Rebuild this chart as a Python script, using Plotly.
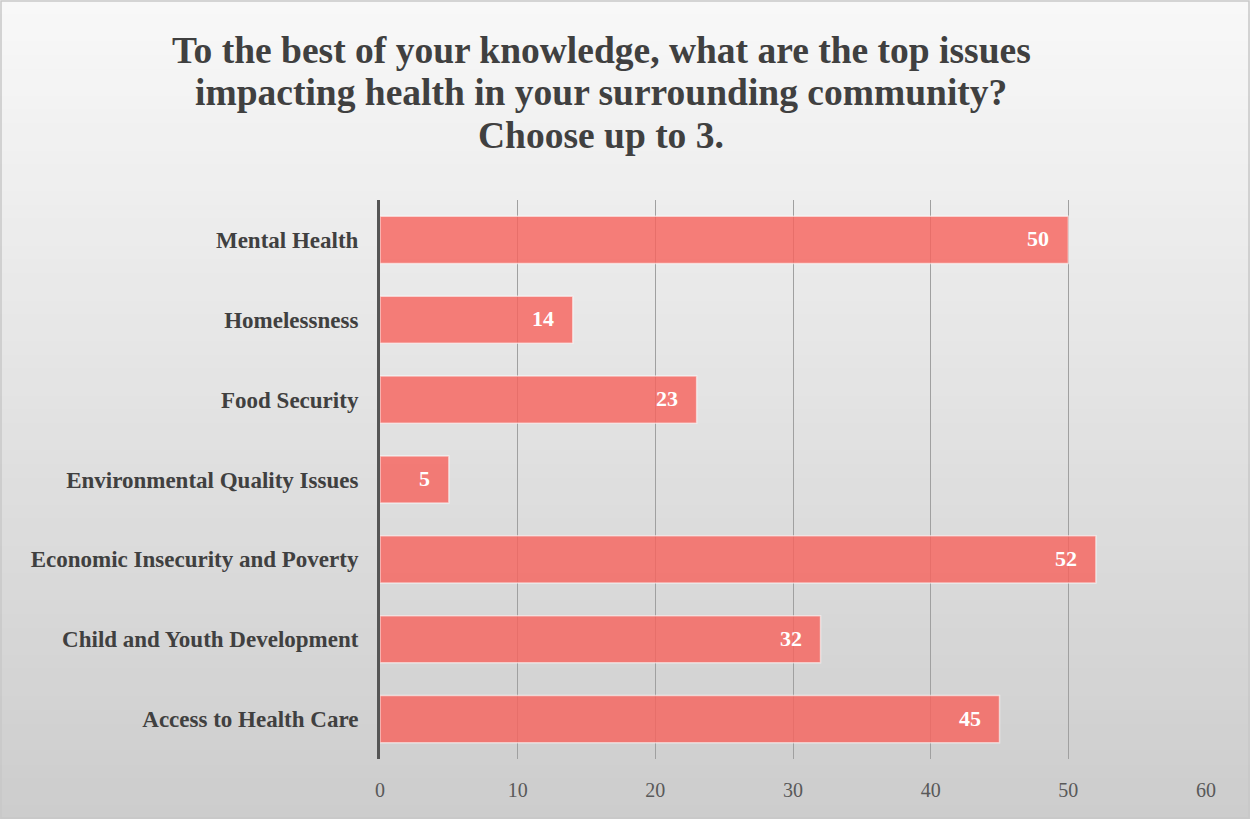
import plotly.graph_objects as go

# Survey responses (top issues impacting community health)
categories = [
    "Access to Health Care",
    "Child and Youth Development",
    "Economic Insecurity and Poverty",
    "Environmental Quality Issues",
    "Food Security",
    "Homelessness",
    "Mental Health",
]
counts = [45, 32, 52, 5, 23, 14, 50]
x_ticks = [0, 10, 20, 30, 40, 50, 60]

title_lines = [
    "To the best of your knowledge, what are the top issues",
    "impacting health in your surrounding community?",
    "Choose up to 3.",
]

FONT = "Liberation Serif"
W, H = 1250, 819
ML, MR, MT, MB = 380, 44, 200, 60
PW, PH = W - ML - MR, H - MT - MB


def px_x(x):
    return (x - ML) / PW


def px_y(y):
    return 1 - (y - MT) / PH


fig = go.Figure()
fig.add_trace(go.Bar(
    y=categories,
    x=counts,
    orientation="h",
    width=0.59,
    marker=dict(color="rgba(246,100,94,0.82)",
                line=dict(color="rgba(255,255,255,0.55)", width=1.5)),
    hoverinfo="x+y",
))

annotations = []
# Value labels just inside the end of each bar
for cat, v in zip(categories, counts):
    annotations.append(dict(
        x=v, y=cat, xref="x", yref="y", text=str(v), showarrow=False,
        xanchor="right", yanchor="middle", xshift=-17, yshift=1,
        font=dict(family=FONT, size=22, color="white", weight="bold"),
    ))
# Title, one annotation per line
for i, line in enumerate(title_lines):
    annotations.append(dict(
        x=px_x(601), y=px_y(50 + 43 * i), xref="paper", yref="paper",
        text=line, showarrow=False, xanchor="center", yanchor="middle",
        font=dict(family=FONT, size=37.5, color="#404040", weight="bold"),
    ))

# Soft vertical gradient behind the chart
shapes = []
n = 60
top = (248, 248, 248)
bot = (205, 205, 205)
for i in range(n):
    t = i / (n - 1)
    c = tuple(round(top[k] + (bot[k] - top[k]) * t) for k in range(3))
    shapes.append(dict(
        type="rect", xref="paper", yref="paper", layer="below",
        x0=px_x(-5), x1=px_x(W + 5),
        y0=px_y(H * (i + 1) / n + 1), y1=px_y(H * i / n),
        fillcolor="rgb(%d,%d,%d)" % c, line=dict(width=0),
    ))
# Outer border
shapes.append(dict(
    type="rect", xref="paper", yref="paper", layer="above",
    x0=px_x(1), x1=px_x(W - 1), y0=px_y(H - 1), y1=px_y(1),
    line=dict(color="#c8c8c8", width=1.5), fillcolor="rgba(0,0,0,0)",
))

fig.update_layout(
    width=W, height=H,
    margin=dict(l=ML, r=MR, t=MT, b=MB),
    paper_bgcolor="#e6e6e6",
    plot_bgcolor="rgba(0,0,0,0)",
    showlegend=False,
    shapes=shapes,
    annotations=annotations,
    font=dict(family=FONT),
)

fig.update_xaxes(
    range=[0, 60],
    tickvals=x_ticks,
    showgrid=True, gridcolor="#a0a0a0", gridwidth=1,
    zeroline=False,
    showline=False,
    ticks="",
    tickfont=dict(family=FONT, size=20, color="#595959"),
    ticklabelstandoff=17,
)
fig.update_yaxes(
    range=[-0.5, 6.5],
    categoryorder="array", categoryarray=categories,
    showgrid=False,
    showline=True, linecolor="#555555", linewidth=3,
    ticks="",
    ticklabelstandoff=14,
    tickfont=dict(family=FONT, size=23, color="#404040", weight="bold"),
)

fig.write_html("out.html")
